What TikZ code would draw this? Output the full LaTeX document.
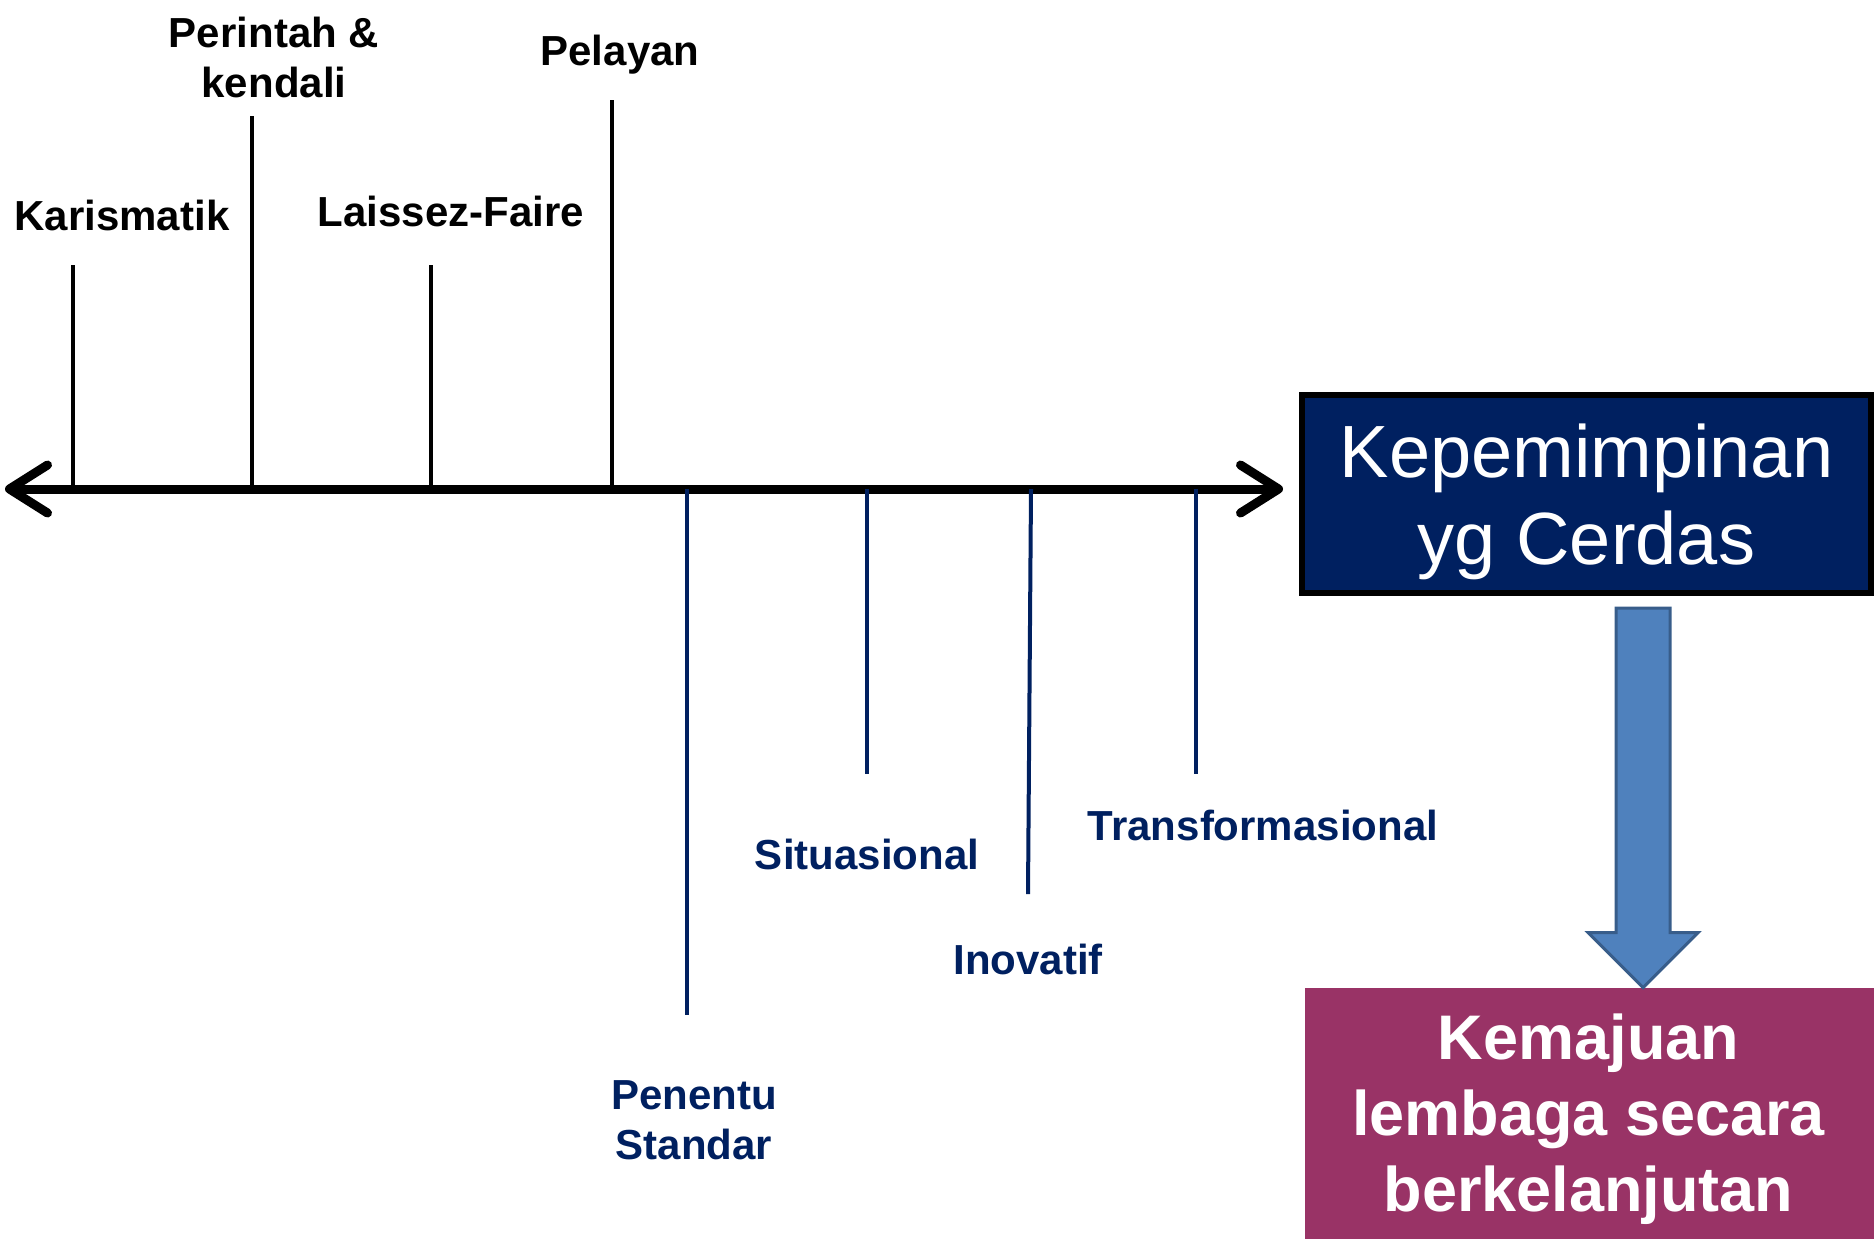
\documentclass[tikz,border=0pt]{standalone}
\usepackage{fontspec}
\setmainfont{Liberation Sans}
\usetikzlibrary{arrows.meta,calc}
\definecolor{navy}{HTML}{002060}
\definecolor{plum}{HTML}{993366}
\definecolor{arrowblue}{HTML}{4F81BD}
\definecolor{arrowedge}{HTML}{385D8A}
\tikzset{
  barb/.tip={Straight Barb[length=19pt,width=24pt,round]},
  axisline/.style={line width=4.5pt, line cap=round, barb-barb},
  uptick/.style={line width=2.2pt},
  downtick/.style={line width=2pt, draw=navy},
  uplabel/.style={font=\bfseries\fontsize{21}{25}\selectfont, align=center, inner sep=0pt},
  downlabel/.style={uplabel, text=navy},
  leadbox/.style={fill=navy, draw=black, line width=3pt, text=white,
    minimum width=284.5pt, minimum height=99pt, align=center,
    font=\fontsize{37}{43.5}\selectfont},
  goalbox/.style={fill=plum, text=white, minimum width=284.5pt, minimum height=125.5pt,
    align=center, font=\bfseries\fontsize{31.5}{38}\selectfont},
  bigarrow/.style={fill=arrowblue, draw=arrowedge, line width=1.5pt},
}
\begin{document}
\begin{tikzpicture}[x=0.5pt,y=-0.5pt]
  \useasboundingbox (0,0) rectangle (1874,1239);
  % main axis
  \coordinate (lend) at (5,489);
  \coordinate (rend) at (1283,489);
  \draw[axisline] (lend) -- (rend);
  % ticks above the axis
  \coordinate (t1) at (73,265);
  \coordinate (t2) at (252,116);
  \coordinate (t3) at (431,265);
  \coordinate (t4) at (612,100);
  \draw[uptick] (t1) -- (t1 |- lend);
  \draw[uptick] (t2) -- (t2 |- lend);
  \draw[uptick] (t3) -- (t3 |- lend);
  \draw[uptick] (t4) -- (t4 |- lend);
  \node[uplabel] (karis) at (122,215) {Karismatik};
  \node[uplabel] (perintah) at (274,57) {Perintah \&\\kendali};
  \node[uplabel] (laissez) at (451,211) {Laissez-Faire};
  \node[uplabel] (pelayan) at (620,55) {Pelayan};
  % ticks below the axis
  \coordinate (b1) at (687,1015);
  \coordinate (b2) at (867,774);
  \coordinate (b3) at (1028,894);
  \coordinate (b4) at (1196,774);
  \draw[downtick] (b1 |- lend) -- (b1);
  \draw[downtick] (b2 |- lend) -- (b2);
  \draw[downtick] (1031,489) -- (b3);
  \draw[downtick] (b4 |- lend) -- (b4);
  \node[downlabel] (penentu) at (694,1120) {Penentu\\Standar};
  \node[downlabel] (situasi) at (867,854) {Situasional};
  \node[downlabel] (inovatif) at (1028,959) {Inovatif};
  \node[downlabel] (transform) at (1263,825) {Transformasional};
  % boxes on the right
  \node[leadbox] (lead) at (1586.5,494) {};
  \node[white, align=center, font=\fontsize{37}{43.5}\selectfont] (leadtext)
    at ($(lead.center)+(0,8)$) {Kepemimpinan\\yg Cerdas};
  \node[goalbox] (goal) at (1589.5,1113.5) {};
  \node[white, align=center, font=\bfseries\fontsize{31.5}{38}\selectfont] (goaltext)
    at ($(goal.center)+(-1,6)$) {Kemajuan\\lembaga secara\\berkelanjutan};
  % block arrow
  \coordinate (arrtop) at (1643,608);
  \coordinate (arrtip) at (arrtop |- goal.north);
  \draw[bigarrow] ($(arrtop)+(-27,0)$) -- ($(arrtop)+(27,0)$) -- ($(arrtip)+(27,-55)$)
    -- ($(arrtip)+(55,-55)$) -- (arrtip) -- ($(arrtip)+(-55,-55)$)
    -- ($(arrtip)+(-27,-55)$) -- cycle;
\end{tikzpicture}
\end{document}
